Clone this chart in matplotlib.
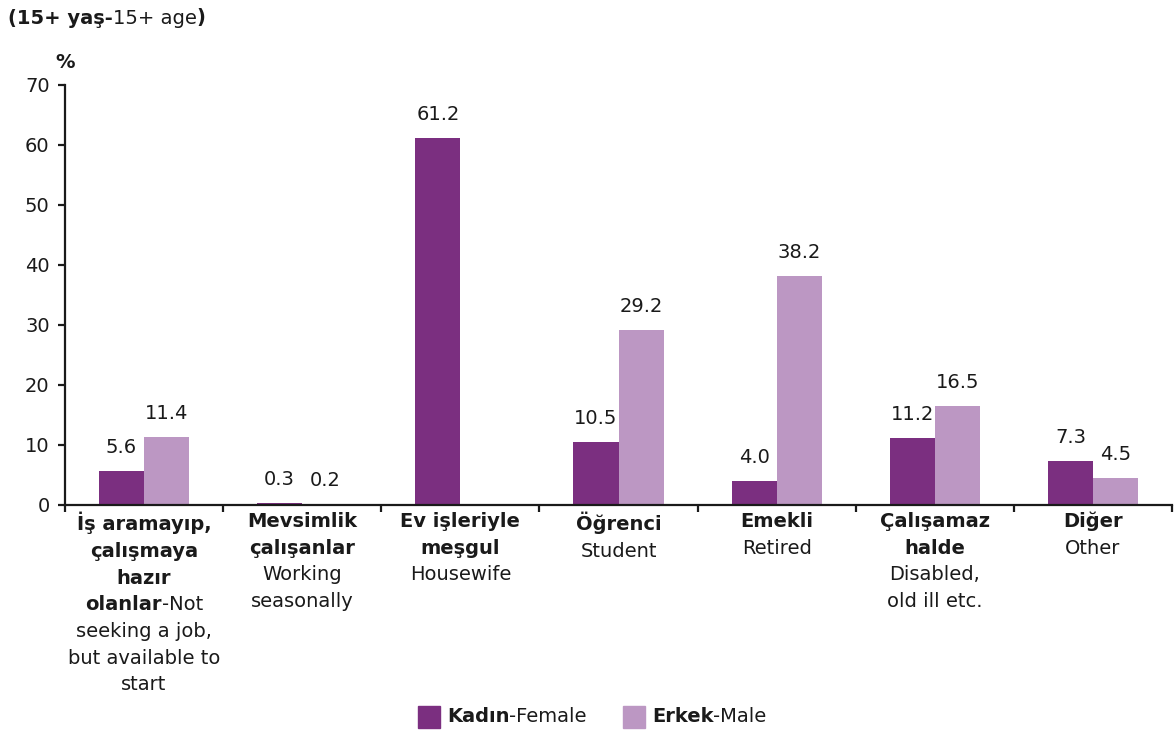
import numpy as np
import matplotlib
matplotlib.use("Agg")
import matplotlib.pyplot as plt
from matplotlib.patches import Rectangle
from matplotlib.offsetbox import TextArea, HPacker, VPacker, AnnotationBbox

plt.rcParams["font.family"] = ["DejaVu Sans"]

# ---------------- data ----------------
female = [5.6, 0.3, 61.2, 10.5, 4.0, 11.2, 7.3]
male = [11.4, 0.2, None, 29.2, 38.2, 16.5, 4.5]
yticks = [0, 10, 20, 30, 40, 50, 60, 70]
# category labels: list of lines, each line a list of (text, bold?)
cat_labels = [
    [[("İş aramayıp,", True)], [("çalışmaya", True)], [("hazır", True)],
     [("olanlar", True), ("-Not", False)], [("seeking a job,", False)],
     [("but available to", False)], [("start", False)]],
    [[("Mevsimlik", True)], [("çalışanlar", True)], [("Working", False)],
     [("seasonally", False)]],
    [[("Ev işleriyle", True)], [("meşgul", True)], [("Housewife", False)]],
    [[("Öğrenci", True)], [("Student", False)]],
    [[("Emekli", True)], [("Retired", False)]],
    [[("Çalışamaz", True)], [("halde", True)], [("Disabled,", False)],
     [("old ill etc.", False)]],
    [[("Diğer", True)], [("Other", False)]],
]
title_parts = [("(15+ yaş-", True), ("15+ age", False), (")", True)]
legend_parts = [[("Kadın", True), ("-Female", False)],
                [("Erkek", True), ("-Male", False)]]

FEMALE_C = "#7B2F80"
MALE_C = "#BC97C3"
TXT = "#1a1a1a"
FS = 14

W, H = 1175, 734
fig = plt.figure(figsize=(W / 100, H / 100), dpi=100)
ax = fig.add_axes([65 / W, (H - 505) / H, (1172 - 65) / W, (505 - 85) / H])

n = len(female)
x = np.arange(n)
bw = 0.285
fvals = np.array([np.nan if v is None else v for v in female], dtype=float)
mvals = np.array([np.nan if v is None else v for v in male], dtype=float)
ax.bar(x - bw / 2, np.nan_to_num(fvals), width=bw, color=FEMALE_C, zorder=2)
ax.bar(x + bw / 2, np.nan_to_num(mvals), width=bw, color=MALE_C, zorder=2)

for xi, v in zip(x - bw / 2, fvals):
    if not np.isnan(v):
        ax.annotate(f"{v:.1f}", (xi, v), xytext=(0, 13), textcoords="offset points",
                    ha="center", va="baseline", fontsize=FS, color=TXT)
for xi, v in zip(x + bw / 2, mvals):
    if not np.isnan(v):
        ax.annotate(f"{v:.1f}", (xi, v), xytext=(0, 13), textcoords="offset points",
                    ha="center", va="baseline", fontsize=FS, color=TXT)

ax.set_xlim(-0.5, n - 0.5)
ax.set_ylim(0, 70)
ax.set_yticks(yticks)
ax.set_yticklabels([str(t) for t in yticks], fontsize=FS, color=TXT)
ax.set_xticks(np.arange(n + 1) - 0.5)
ax.set_xticklabels([])
for s in ["top", "right"]:
    ax.spines[s].set_visible(False)
for s in ["left", "bottom"]:
    ax.spines[s].set_linewidth(1.6)
    ax.spines[s].set_color("#1a1a1a")
ax.tick_params(axis="both", direction="out", length=5, width=1.6, color="#1a1a1a")
ax.tick_params(axis="y", pad=6)


def make_line(parts, fs=FS):
    boxes = [TextArea(t, textprops=dict(fontsize=fs, color=TXT,
                                        fontweight="bold" if b else "normal"))
             for t, b in parts]
    return HPacker(children=boxes, align="baseline", pad=0, sep=0)


for i, lines in enumerate(cat_labels):
    vp = VPacker(children=[make_line(l) for l in lines], align="center", pad=0, sep=5.5)
    ab = AnnotationBbox(vp, (i, 0), xycoords=("data", "axes fraction"),
                        xybox=(0, -5), boxcoords="offset points",
                        box_alignment=(0.5, 1), frameon=False, pad=0)
    ax.add_artist(ab)

# title
ab = AnnotationBbox(make_line(title_parts), (8, H - 18), xycoords="figure pixels",
                    box_alignment=(0, 0.5), frameon=False, pad=0)
fig.add_artist(ab)
fig.text(65 / W, (H - 62) / H, "%", ha="center", va="center", fontsize=FS,
         fontweight="bold", color=TXT)

# legend
for (sx, tx), parts, col in zip([(418, 447), (623, 652)], legend_parts, [FEMALE_C, MALE_C]):
    fig.add_artist(Rectangle((sx / W, (H - 728) / H), 22 / W, 22 / H,
                             transform=fig.transFigure, color=col))
    ab = AnnotationBbox(make_line(parts), (tx, H - 717), xycoords="figure pixels",
                        box_alignment=(0, 0.5), frameon=False, pad=0)
    fig.add_artist(ab)

fig.savefig("out.png", dpi=100)
